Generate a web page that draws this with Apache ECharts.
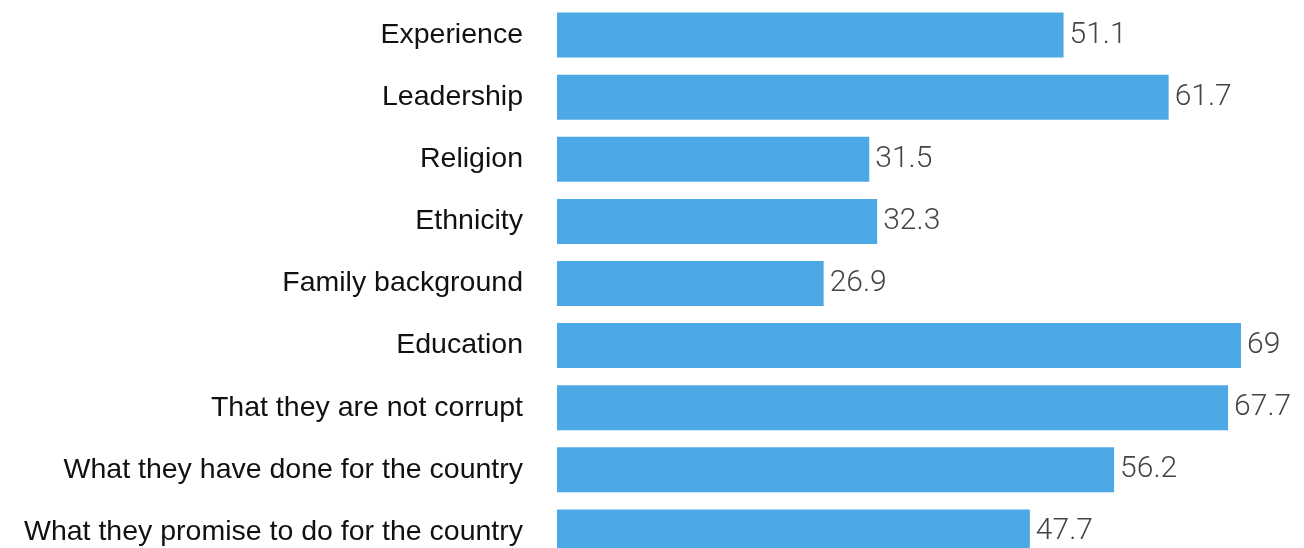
<!DOCTYPE html>
<html>
<head>
<meta charset="utf-8">
<script src="https://cdn.jsdelivr.net/npm/echarts@6/dist/echarts.min.js"></script>
<style>html,body{margin:0;padding:0;background:#fff}#c{width:1304px;height:548px}</style>
</head>
<body>
<div id="c"></div>
<script>
const categories = ["Experience","Leadership","Religion","Ethnicity","Family background","Education","That they are not corrupt","What they have done for the country","What they promise to do for the country"];
const values = [51.1, 61.7, 31.5, 32.3, 26.9, 69, 67.7, 56.2, 47.7];

const chart = echarts.init(document.getElementById('c'));
chart.setOption({
  animation: false,
  grid: {left: 557, top: 4, height: 559, right: 63, outerBoundsMode: 'none', containLabel: false},
  xAxis: {type: 'value', min: 0, max: 69, show: false},
  yAxis: {
    type: 'category', data: categories, inverse: true,
    axisLine: {show: false}, axisTick: {show: false},
    axisLabel: {margin: 34, fontSize: 28.5, color: '#111', fontFamily: 'Liberation Sans, Arial, sans-serif'}
  },
  series: [{
    type: 'bar', data: values, barWidth: 45,
    itemStyle: {color: '#4CA9E6'},
    label: {show: true, position: 'right', distance: 6, fontSize: 30, color: '#444', fontWeight: 300, fontFamily: 'Roboto, sans-serif'}
  }]
});
</script>
</body>
</html>
